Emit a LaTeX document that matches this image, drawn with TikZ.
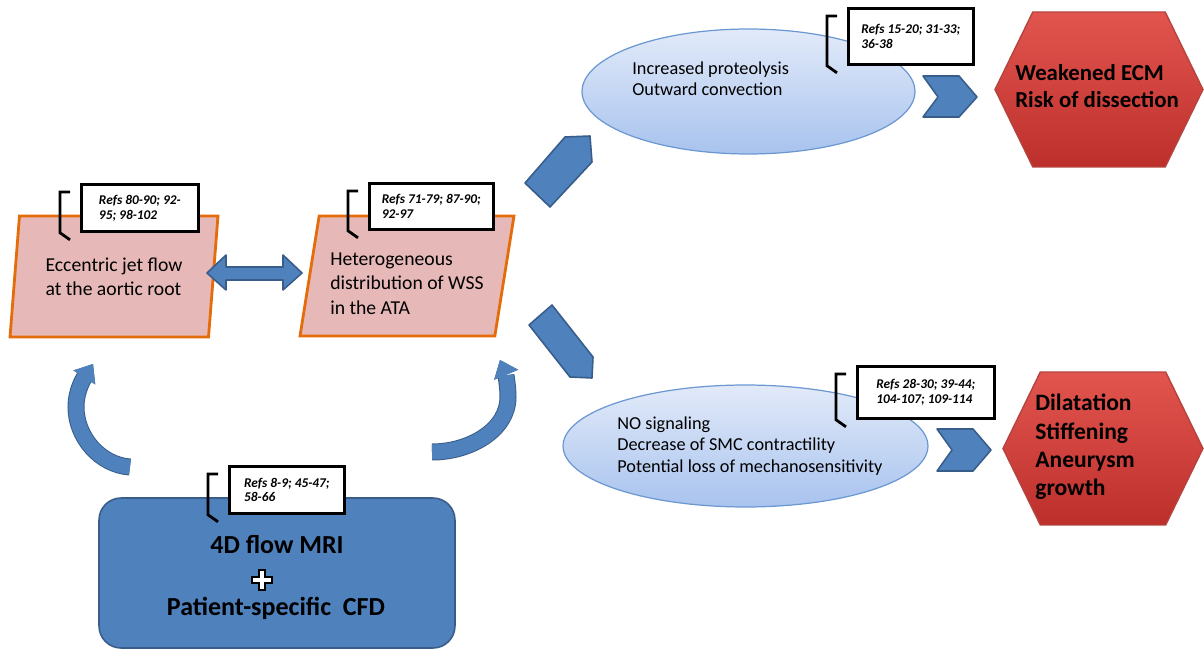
\documentclass[tikz,border=0pt]{standalone}
\usepackage{fontspec}
\setmainfont{Carlito}
\usepackage{tikz}
\usetikzlibrary{shapes.geometric, shapes.symbols, arrows.meta}

\definecolor{paraFill}{HTML}{E6B9B8}
\definecolor{paraLine}{HTML}{E46C0A}
\definecolor{blobTop}{HTML}{E2EAF9}
\definecolor{blobBottom}{HTML}{A8C3EE}
\definecolor{blobLine}{HTML}{6C98D2}
\definecolor{mriFill}{HTML}{4F81BD}
\definecolor{mriLine}{HTML}{385D8A}
\definecolor{hexTop}{HTML}{E2554F}
\definecolor{hexBottom}{HTML}{BC2F2B}
\definecolor{hexLine}{HTML}{B5433F}

\tikzset{
    x=0.02cm, y=-0.02cm, % one unit is one pixel of the sketch, y runs downwards
    para/.style={trapezium, trapezium left angle=76, trapezium right angle=104,
        trapezium stretches body, draw=paraLine, line width=1.6pt, fill=paraFill,
        inner sep=0pt, align=left, font=\fontsize{11.2}{13.8}\selectfont}, % flow boxes
    blob/.style={ellipse, draw=blobLine, line width=0.7pt, top color=blobTop,
        bottom color=blobBottom, inner sep=0pt}, % effect bubbles
    blobtext/.style={anchor=west, align=left, inner sep=0pt},
    hex/.style={signal, signal to=west and east, signal pointer angle=128,
        draw=hexLine, line width=0.8pt, top color=hexTop, bottom color=hexBottom,
        inner sep=0pt}, % outcomes
    hextext/.style={anchor=west, align=left, inner sep=0pt},
    refbox/.style={draw, line width=1.6pt, fill=white, anchor=north west, inner sep=0pt,
        align=left, font=\bfseries\itshape\fontsize{7.6}{8.5}\selectfont}, % references
    bracket/.style={draw, line width=1.6pt},
    block/.style={draw=mriLine, line width=0.9pt, fill=mriFill, line join=round},
    curvearrow/.style={draw=mriFill, line width=0.3cm,
        preaction={draw=mriLine, line width=0.34cm},
        -{Triangle[length=0.32cm, width=0.52cm, line width=0pt]}},
    mri/.style={rectangle, rounded corners=0.44cm, draw=mriLine, line width=0.9pt,
        fill=mriFill, inner sep=0pt},
    mritext/.style={anchor=base, inner sep=0pt, font=\bfseries\fontsize{14.8}{17}\selectfont},
}

\begin{document}
\begin{tikzpicture}
    \useasboundingbox (0,0) rectangle (1204,652);

    % flow boxes and imaging
    \node[para, minimum width=4.16cm, minimum height=2.42cm] (jet) at (114,276.5)
        {Eccentric jet flow\\at the aortic root};
    \node[para, minimum width=4.28cm, minimum height=2.4cm] (wss) at (407,276)
        {\rule{0pt}{16pt}Heterogeneous\\distribution of WSS\\in the ATA};
    \node[mri, minimum width=7.12cm, minimum height=3cm] (mri) at (277,573) {};
    \node[mritext] (mritop) at (277,553) {4D flow MRI};
    \node[mritext] (mribot) at (276,615) {Patient-specific\ \ CFD};
    \draw[draw=black, line width=1.6pt, fill=white, line join=miter]
        (259,570) -- (265,570) -- (265,577) -- (272,577) -- (272,583) -- (265,583)
        -- (265,590) -- (259,590) -- (259,583) -- (252,583) -- (252,577) -- (259,577) -- cycle;

    % effect bubbles
    \node[blob, minimum width=6.66cm, minimum height=2.5cm] (prot) at (748.5,91.5) {};
    \node[blobtext, font=\fontsize{10.4}{11.9}\selectfont] (prottext) at (632,79)
        {Increased proteolysis\\Outward convection};
    \node[blob, minimum width=7.3cm, minimum height=2.44cm] (nosig) at (745.5,446) {};
    \node[blobtext, font=\fontsize{10.4}{12.2}\selectfont] (nosigtext) at (617,446)
        {NO signaling\\Decrease of SMC contractility\\Potential loss of mechanosensitivity};

    % outcomes
    \node[hex, minimum width=4.16cm, minimum height=3.1cm] (ecm) at (1099,89.5) {};
    \node[hextext, font=\bfseries\fontsize{13}{15.3}\selectfont] (ecmtext) at (1015,86)
        {Weakened ECM\\Risk of dissection};
    \node[hex, minimum width=4cm, minimum height=3.06cm] (growth) at (1103,448.5) {};
    \node[hextext, font=\bfseries\fontsize{13.4}{16.2}\selectfont] (growthtext) at (1035,447)
        {Dilatation\\Stiffening\\Aneurysm\\growth};

    % block arrows
    \draw[block] (207,273) -- (226,255) -- (226,267) -- (283,267) -- (283,255) -- (302,273)
        -- (283,290) -- (283,280) -- (226,280) -- (226,290) -- cycle;
    \draw[block] (525,183) -- (565,137) -- (590,136) -- (592,162) -- (550,207) -- cycle;
    \draw[block] (529,325) -- (552,305) -- (593,357) -- (592,378) -- (570,377) -- cycle;
    \draw[block] (923,76) -- (959,76) -- (977,97) -- (959,117) -- (923,117) -- (938,97) -- cycle;
    \draw[block] (937,429) -- (973,429) -- (991,450) -- (973,471) -- (937,471) -- (952,450) -- cycle;

    % curved arrows from the imaging box
    \coordinate (mriL) at (130,467);
    \coordinate (mriR) at (432,452);
    \coordinate (jetIn) at (93,364);
    \coordinate (wssIn) at (500,360);
    \draw[curvearrow] (mriL) .. controls (100,465) and (76,437) .. (76,407)
        .. controls (76,390) and (84,378) .. (jetIn);
    \draw[curvearrow] (mriR) .. controls (470,452) and (508,430) .. (508,397)
        .. controls (508,384) and (505,372) .. (wssIn);

    % references
    \node[refbox, minimum width=2.34cm, minimum height=0.94cm] (refjet) at (80,183)
        {Refs 80-90; 92-\\95; 98-102};
    \node[refbox, minimum width=2.48cm, minimum height=0.92cm] (refwss) at (368,182)
        {Refs 71-79; 87-90;\\92-97};
    \node[refbox, minimum width=2.5cm, minimum height=1.12cm] (refprot) at (847,7)
        {Refs 15-20; 31-33;\\36-38};
    \node[refbox, minimum width=2.74cm, minimum height=1.04cm] (refnosig) at (856,365)
        {Refs 28-30; 39-44;\\104-107; 109-114};
    \node[refbox, minimum width=2.3cm, minimum height=0.94cm] (refmri) at (228,465)
        {Refs 8-9; 45-47;\\58-66};
    \foreach \r in {refjet, refwss, refprot, refnosig, refmri}
        \draw[bracket] ([shift={(-10,9)}]\r.north west) -- ++(-10,0)
            -- ([shift={(-20,0)}]\r.south west) -- ++(10,7);
\end{tikzpicture}
\end{document}
